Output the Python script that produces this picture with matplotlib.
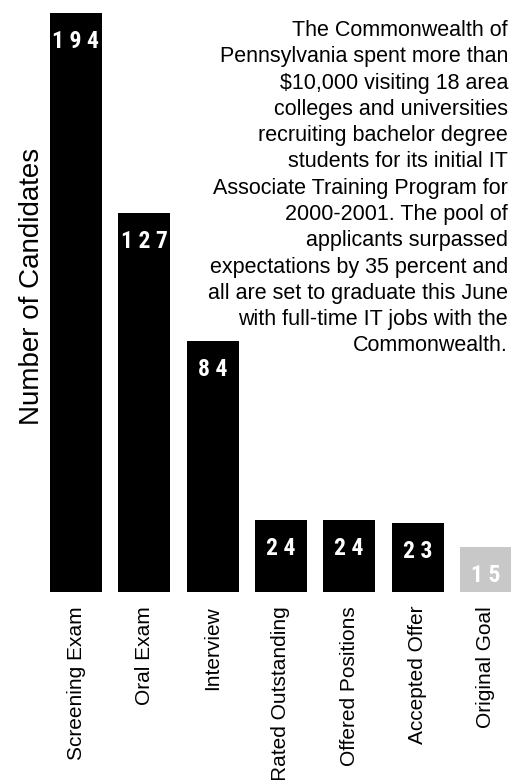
import matplotlib
matplotlib.use("Agg")
import matplotlib.pyplot as plt
from matplotlib import font_manager

categories = ["Screening Exam", "Oral Exam", "Interview", "Rated Outstanding",
              "Offered Positions", "Accepted Offer", "Original Goal"]
values = [194, 127, 84, 24, 24, 23, 15]
bar_colors = ["#000000"] * 6 + ["#c8c8c8"]

note_lines = [
    "The Commonwealth of",
    "Pennsylvania spent more than",
    "$10,000 visiting 18 area",
    "colleges and universities",
    "recruiting bachelor degree",
    "students for its initial IT",
    "Associate Training Program for",
    "2000-2001. The pool of",
    "applicants surpassed",
    "expectations by 35 percent and",
    "all are set to graduate this June",
    "with full-time IT jobs with the",
    "Commonwealth.",
]
y_label = "Number of Candidates"

BASE = ["Liberation Sans", "Arial", "DejaVu Sans"]


def has_font(name):
    try:
        font_manager.findfont(font_manager.FontProperties(family=name),
                              fallback_to_default=False)
        return True
    except Exception:
        return False


num_font = None
for cand in ["Liberation Sans Narrow", "Arial Narrow", "Roboto Condensed",
             "DejaVu Sans Condensed", "Open Sans Condensed", "Noto Sans Condensed"]:
    if has_font(cand):
        num_font = dict(family=cand, weight="bold")
        num_sep = " "
        num_size = 17
        break
if num_font is None:
    num_font = dict(family="Roboto", weight="bold", stretch="condensed")
    num_sep = "\u2009"
    num_size = 16

plt.rcParams["font.family"] = BASE

W, H = 511, 780
fig = plt.figure(figsize=(W / 100, H / 100), dpi=100)
bottom_px = 592
ax = fig.add_axes([0, (H - bottom_px) / H, 1, bottom_px / H])

spacing = 68.3
c0 = 76
ax.set_xlim(-c0 / spacing, (W - c0) / spacing)
ax.set_ylim(0, bottom_px / 2.985)

x = list(range(len(categories)))
bars = ax.bar(x, values, width=52 / spacing, color=bar_colors, linewidth=0)

for xi, v in zip(x, values):
    txt = num_sep.join(str(v))
    ax.annotate(txt, xy=(xi, v), xytext=(0, -25), textcoords="offset points",
                ha="center", va="baseline", color="white", fontsize=num_size,
                **num_font)

ax.set_xticks(x)
ax.set_xticklabels(categories, rotation=90, fontsize=15, va="top", ha="center")
ax.tick_params(axis="x", length=0, pad=10)
ax.set_yticks([])
for s in ax.spines.values():
    s.set_visible(False)

fig.text(32 / W, 1 - 286 / H, y_label, rotation=90, fontsize=20,
         ha="center", va="center")

fig.text(508 / W, 1 - 20 / H, "\n".join(note_lines), fontsize=15.5,
         ha="right", va="top", multialignment="right", linespacing=1.33,
         parse_math=False)

fig.savefig("out.png", dpi=100)
